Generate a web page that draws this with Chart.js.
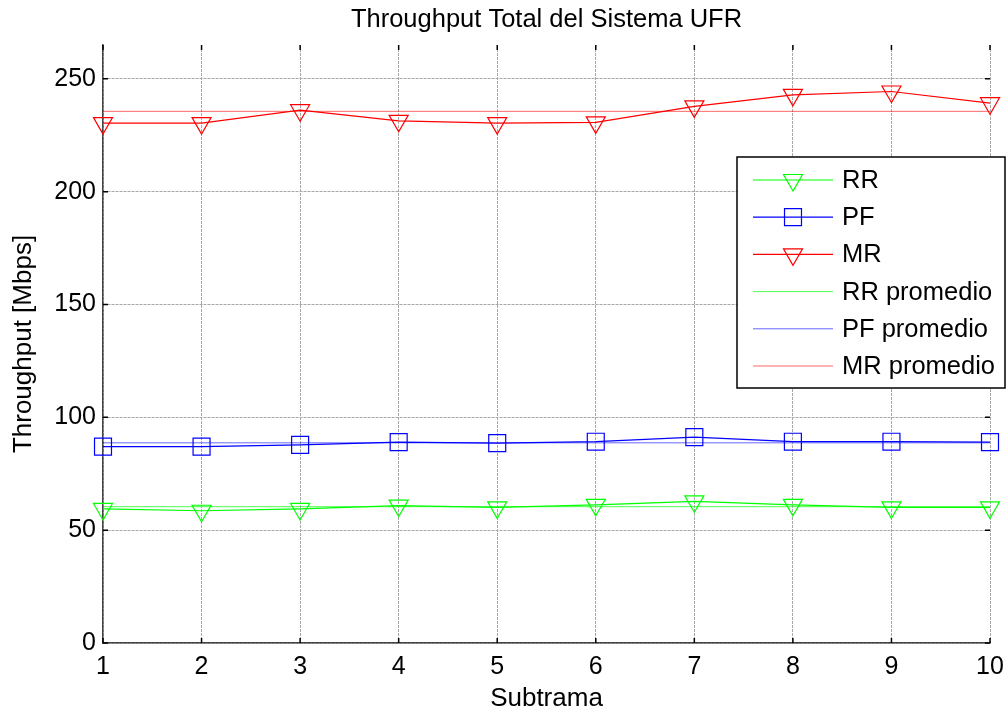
<!DOCTYPE html>
<html>
<head>
<meta charset="utf-8">
<script src="https://cdn.jsdelivr.net/npm/chart.js@4"></script>
<style>
html, body { margin: 0; padding: 0; background: #fff; }
#wrap { position: relative; width: 1008px; height: 719px; }
</style>
</head>
<body>
<div id="wrap"><canvas id="chart" width="1008" height="719"></canvas></div>
<script>
//------datos
const subtramas = [1, 2, 3, 4, 5, 6, 7, 8, 9, 10];
const rr = [59.4, 58.6, 59.4, 60.9, 60.1, 61.2, 62.8, 61.2, 60.1, 60.1];
const pf = [87.0, 87.0, 87.8, 89.0, 88.6, 89.2, 91.2, 89.2, 89.2, 89.0];
const mr = [230.4, 230.4, 236.1, 231.4, 230.4, 230.7, 237.8, 242.9, 244.4, 239.2];
const promedioX = [1, 10];
const rrPromedio = [60.4, 60.4];
const pfPromedio = [88.7, 88.7];
const mrPromedio = [235.6, 235.6];
const yTicks = [0, 50, 100, 150, 200, 250];
const titulo = 'Throughput Total del Sistema UFR';

const FONT = 'Liberation Sans, Arial, Helvetica, sans-serif';

function toPoints(xs, ys) {
    return xs.map((x, i) => ({ x: x, y: ys[i] }));
}

function serie(label, xs, ys, color, style, radius, width) {
    return {
        label: label,
        data: toPoints(xs, ys),
        borderColor: color,
        backgroundColor: color,
        borderWidth: width,
        pointStyle: style,
        pointRadius: style ? radius : 0,
        pointRotation: style === 'triangle' ? 180 : 0,
        pointBorderColor: color,
        pointBackgroundColor: 'rgba(0,0,0,0)',
        pointBorderWidth: 1.2,
        tension: 0,
        clip: false
    };
}

//------dibujo de ejes, titulo y leyenda estilo matlab
const matlabAxes = {
    id: 'matlabAxes',
    afterDraw(chart) {
        const ctx = chart.ctx;
        const a = chart.chartArea;
        const xs = chart.scales.x, ys = chart.scales.y;
        const tl = 5;
        ctx.save();
        ctx.strokeStyle = '#000';
        ctx.lineWidth = 1.5;
        ctx.beginPath();
        xs.ticks.forEach(t => {
            const px = xs.getPixelForValue(t.value);
            ctx.moveTo(px, a.bottom); ctx.lineTo(px, a.bottom - tl);
            ctx.moveTo(px, a.top); ctx.lineTo(px, a.top + tl);
        });
        ys.ticks.forEach(t => {
            const py = ys.getPixelForValue(t.value);
            ctx.moveTo(a.left, py); ctx.lineTo(a.left + tl, py);
            ctx.moveTo(a.right, py); ctx.lineTo(a.right - tl, py);
        });
        ctx.stroke();

        // titulo
        ctx.fillStyle = '#000';
        ctx.font = '25.5px ' + FONT;
        ctx.textAlign = 'center';
        ctx.textBaseline = 'middle';
        ctx.fillText(titulo, (a.left + a.right) / 2, 20);

        // leyenda
        const box = { x: 737, y: 157, w: 268, h: 231 };
        ctx.fillStyle = '#fff';
        ctx.fillRect(box.x, box.y, box.w, box.h);
        ctx.strokeStyle = '#000';
        ctx.lineWidth = 1.5;
        ctx.strokeRect(box.x, box.y, box.w, box.h);
        chart.data.datasets.forEach((ds, i) => {
            const y = 180 + i * 37.2;
            ctx.strokeStyle = ds.borderColor;
            ctx.lineWidth = ds.borderWidth;
            ctx.beginPath();
            ctx.moveTo(753, y); ctx.lineTo(833, y);
            ctx.stroke();
            if (ds.pointStyle) {
                const cx = 793, r = ds.pointRadius;
                ctx.lineWidth = ds.pointBorderWidth;
                ctx.beginPath();
                if (ds.pointStyle === 'triangle') {
                    for (let k = 0; k < 3; k++) {
                        const ang = Math.PI + k * 2 * Math.PI / 3;
                        const px = cx + Math.sin(ang) * r, py = y - Math.cos(ang) * r;
                        if (k === 0) ctx.moveTo(px, py); else ctx.lineTo(px, py);
                    }
                    ctx.closePath();
                } else {
                    const s = Math.SQRT1_2 * r;
                    ctx.rect(cx - s, y - s, 2 * s, 2 * s);
                }
                ctx.stroke();
            }
            ctx.fillStyle = '#000';
            ctx.font = '25.5px ' + FONT;
            ctx.textAlign = 'left';
            ctx.textBaseline = 'middle';
            ctx.fillText(ds.label, 842, y + 1);
        });
        ctx.restore();
    }
};

const gridOpts = { color: '#a8a8a8', lineWidth: 1, drawTicks: false };
const borderOpts = { display: true, color: '#444', width: 1.5, dash: [3, 1] };
const tickFont = { family: FONT, size: 25 };
const titleFont = { family: FONT, size: 26 };

const config = {
    type: 'line',
    data: {
        datasets: [
            serie('RR', subtramas, rr, '#00ff00', 'triangle', 11, 1.2),
            serie('PF', subtramas, pf, '#0000ff', 'rect', 12, 1.2),
            serie('MR', subtramas, mr, '#ff0000', 'triangle', 11, 1.2),
            serie('RR promedio', promedioX, rrPromedio, 'rgba(0,255,0,0.7)', false, 0, 1),
            serie('PF promedio', promedioX, pfPromedio, 'rgba(0,0,255,0.6)', false, 0, 1),
            serie('MR promedio', promedioX, mrPromedio, 'rgba(255,0,0,0.6)', false, 0, 1)
        ]
    },
    options: {
        responsive: false,
        animation: false,
        devicePixelRatio: 1,
        layout: { padding: { left: 0, right: 18, top: 45, bottom: 0 } },
        plugins: {
            legend: { display: false },
            title: { display: false },
            tooltip: { enabled: false }
        },
        scales: {
            x: {
                type: 'linear',
                min: 1,
                max: 10,
                ticks: { stepSize: 1, color: '#000', font: tickFont, padding: 9, maxRotation: 0 },
                grid: gridOpts,
                border: borderOpts,
                title: { display: true, text: 'Subtrama', color: '#000', font: titleFont, padding: { top: 0, bottom: 5 } },
                afterFit: s => { s.height = 76; s.paddingLeft = 0; s.paddingRight = 0; }
            },
            y: {
                min: 0,
                max: 265,
                afterBuildTicks: s => { s.ticks = yTicks.map(v => ({ value: v })); },
                ticks: { color: '#000', font: tickFont, padding: 7 },
                grid: gridOpts,
                border: borderOpts,
                title: { display: true, text: 'Throughput [Mbps]', color: '#000', font: titleFont, padding: { top: 8, bottom: 0 } },
                afterFit: s => { s.width = 103; s.paddingTop = 0; s.paddingBottom = 0; }
            }
        }
    },
    plugins: [matlabAxes]
};

const canvas = document.getElementById('chart');
const myChart = new Chart(canvas, config);
</script>
</body>
</html>
